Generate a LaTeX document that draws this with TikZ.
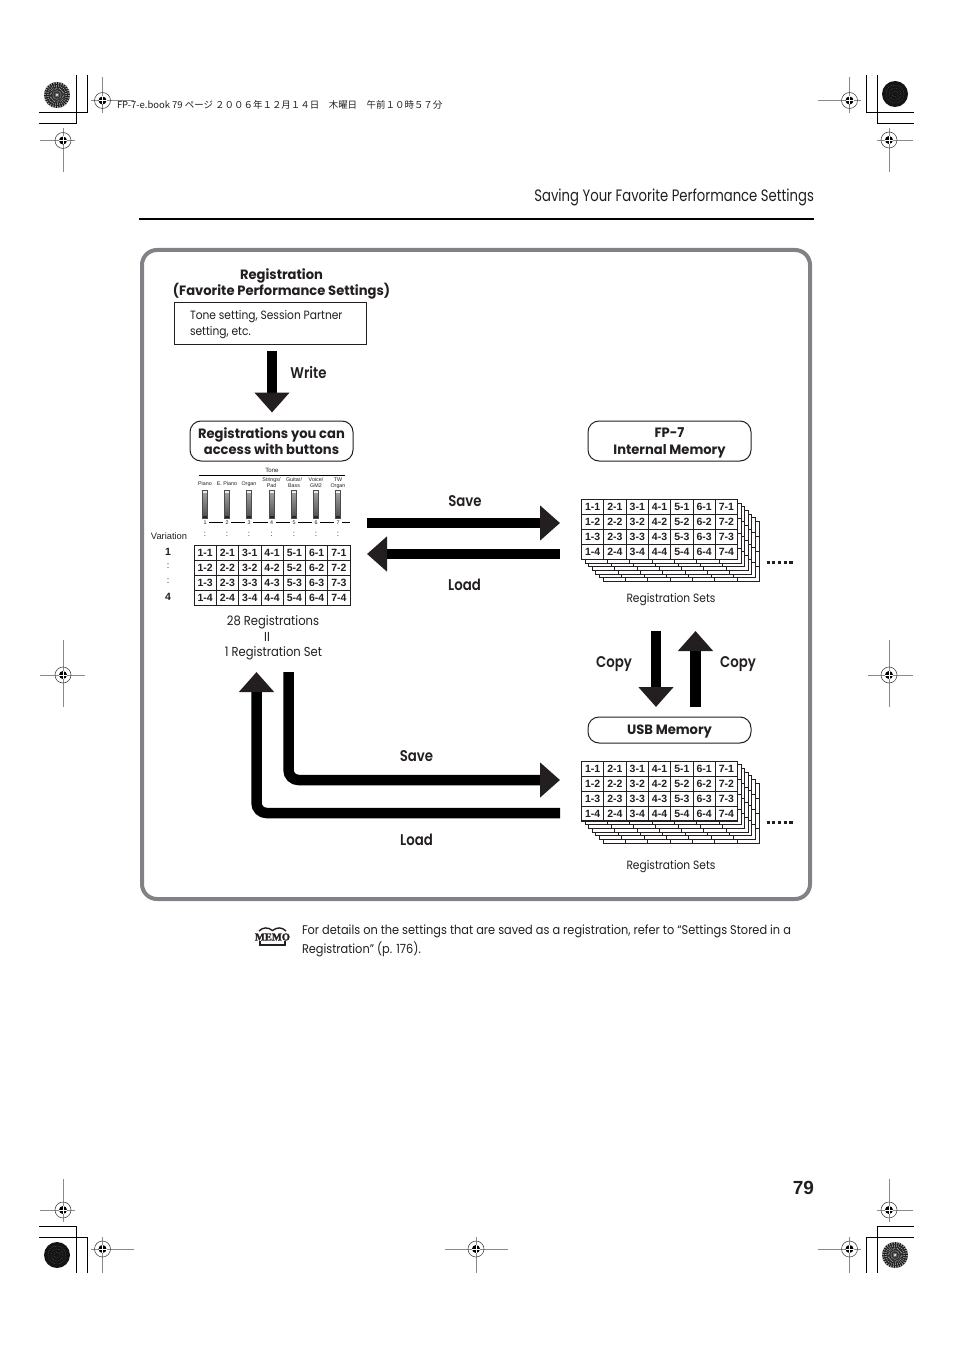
\documentclass[tikz,border=0pt]{standalone}
\usepackage{fontspec}
\setmainfont[FakeStretch=.89]{Poppins}
\newfontfamily\boxfont[FakeStretch=.97]{Poppins}
\newfontfamily\labfont[FakeStretch=.86,UprightFont=* SemiBold]{Poppins}
\newfontfamily\headfont[FakeStretch=.8]{Poppins}
\newfontfamily\notefont[FakeStretch=.9]{Poppins}
\newfontfamily\hvfont{Liberation Sans}
\newfontfamily\cjkfont{Noto Sans CJK JP}
\newfontfamily\memofont[FakeBold=2]{Liberation Serif}
\usetikzlibrary{arrows.meta,shapes.geometric,calc}
\definecolor{ink}{HTML}{231F20}
\definecolor{framegray}{HTML}{808285}
\definecolor{cropgray}{HTML}{8A8A8A}
\def\pxx{0.75pt}
\newcommand{\geo}[1]{\fontsize{\dimexpr #1\dimexpr0.75pt\relax\relax}{\dimexpr #1\dimexpr0.9pt\relax\relax}\selectfont}
\tikzset{
  every node/.style={inner sep=0pt,outer sep=0pt,text=ink},
  blockarrow/.style={draw=black,line width=10.5*\pxx,-{Triangle[length=20*\pxx,width=34*\pxx,color=ink]}},
  roundbox/.style={draw=ink,line width=1*\pxx,rounded corners=11*\pxx,fill=white,align=center,minimum width=163*\pxx,font=\boxfont\geo{13.5}\bfseries,text depth=0pt},
  lab/.style={font=\labfont\geo{15.5}},
  plain/.style={font=\geo{12},align=center},
  cell/.style={font=\hvfont\geo{10.5}\bfseries},
  tiny/.style={font=\hvfont\fontsize{4}{4.4}\selectfont,align=center},
  crop/.style={draw=black,line width=1*\pxx},
  hair/.style={draw=cropgray,line width=.7*\pxx},
}
\newcommand{\gridlines}[3]{%
  \draw[draw=ink,line width=1*\pxx,fill=white] (#1,#2) rectangle ++(156,60);
  \foreach \i in {1,...,6}{\draw[draw=ink,line width=.8*\pxx] ({#1+\i*22.3},#2) -- ++(0,60);}
  \foreach \j in {1,2,3}{\draw[draw=ink,line width=.8*\pxx] (#1,{#2+\j*15}) -- ++(156,0);}
}
\newcommand{\regtable}[3]{%
  \gridlines{#2}{#3}{}
  \foreach \i in {1,...,7}{\foreach \j in {1,...,4}{
    \node[cell] (#1-\i-\j) at ({#2+(\i-.5)*22.3},{#3+(\j-.5)*15}) {\i-\j};
  }}
}
\newcommand{\stack}[3]{%
  \foreach \k in {6,5,4,3,2,1}{\gridlines{#2+\k*3.6}{#3+\k*3.67}{}}
  \regtable{#1}{#2}{#3}
  \draw[draw=ink,line width=1.6*\pxx] (#2,#3+60) -- ++(156,0);
}
\newcommand{\target}[7]{%
  \draw[hair] (#3,#2) -- (#4,#2);
  \draw[hair] (#1,#5) -- (#1,#6);
  \draw[draw=black!70,line width=.6*\pxx] (#1,#2) circle (8);
  \fill[black] (#1,#2) circle (4);
  \draw[white,line width=.7*\pxx] (#1-4,#2) -- (#1+4,#2) (#1,#2-4) -- (#1,#2+4);
}
\newcommand{\burst}[3]{%
  \fill[black!92] (#1,#2) circle (13);
  \ifnum#3=1
    \foreach \a in {0,12,...,348}{\fill[white!62!black] (#1,#2) -- ($(#1,#2)+(\a:13)$) arc (\a:\a+5:13) -- cycle;}
    \foreach \r in {3,5.5,8,10.5}{\draw[black!85,line width=.8*\pxx] (#1,#2) circle (\r);}
    \fill[white] (#1,#2) circle (1);
  \else
    \foreach \r in {3,6,9}{\draw[white!40!black,line width=.5*\pxx,densely dotted] (#1,#2) circle (\r);}
  \fi
}
\begin{document}
\begin{tikzpicture}[x=0.75pt,y=-0.75pt]
\useasboundingbox (0,0) rectangle (954,1351);
\fill[white] (0,0) rectangle (954,1351);

% crop marks
\draw[crop] (87,75) -- (87,113) -- (39,113);
\draw[crop] (76.5,75) -- (76.5,124) -- (39,124);
\draw[crop] (866.5,75) -- (866.5,113) -- (914,113);
\draw[crop] (877,75) -- (877,124) -- (914,124);
\draw[crop] (76.5,1273) -- (76.5,1226) -- (39,1226);
\draw[crop] (87,1273) -- (87,1237) -- (39,1237);
\draw[crop] (877,1273) -- (877,1226) -- (914,1226);
\draw[crop] (866.5,1273) -- (866.5,1237) -- (914,1237);
\burst{57}{95}{1}
\burst{895}{94}{0}
\burst{57}{1255}{0}
\burst{895}{1255}{1}
\target{102.5}{100.5}{91}{134}{77}{113}{}
\target{849.5}{100.5}{818}{861}{77}{113}{}
\target{63}{140.5}{40}{75}{128}{172}{}
\target{889}{140}{877}{913}{128}{172}{}
\target{63}{675}{40}{85}{640}{707}{}
\target{889}{675}{868}{913}{640}{707}{}
\target{63}{1210}{40}{75}{1179}{1222}{}
\target{889}{1210}{877}{913}{1179}{1222}{}
\target{102.5}{1249}{91}{134}{1237}{1273}{}
\target{476}{1249}{445}{508}{1237}{1273}{}
\target{849.5}{1249}{818}{861}{1237}{1273}{}
\node[anchor=west,font=\cjkfont\fontsize{7.1}{8}\selectfont] (jobline) at (117,104.5) {FP-7-e.book 79 ページ ２００６年１２月１４日　木曜日　午前１０時５７分};

% header
\node[anchor=base east,font=\headfont\geo{16.5}] (header) at (814,202) {Saving Your Favorite Performance Settings};
\draw[draw=black,line width=2*\pxx] (139,219) -- (814,219);

% frame
\draw[draw=framegray,line width=4*\pxx,rounded corners=15*\pxx] (142,250) rectangle (810,899);

% registration
\node[align=center,font=\boxfont\geo{13.5}\bfseries] (regtitle) at (281.5,284) {Registration\\(Favorite Performance Settings)};
\draw[draw=ink,line width=1*\pxx] (174.5,302.5) rectangle (366.5,344.5);
\node[anchor=north west,align=left,font=\geo{12}] (regtext) at (190,310.5) {Tone setting, Session Partner\\[1.2pt]setting, etc.};

% write
\coordinate (wA) at (272,351);
\coordinate (wB) at (272,412.5);
\draw[blockarrow] (wA) -- (wB);
\node[lab] (write) at (308.5,372.5) {Write};

% boxes
\node[roundbox,minimum height=40*\pxx] (regbox) at (271.5,441) {Registrations you can\\access with buttons};
\node[roundbox,minimum height=40*\pxx] (fpbox) at (669.5,441) {FP-7\\Internal Memory};
\node[roundbox,minimum height=26*\pxx] (usbbox) at (669.5,730) {USB Memory};

% tone panel
\node[tiny,font=\hvfont\fontsize{4.6}{5}\selectfont] (tone) at (272,470.5) {Tone};
\draw[draw=black,line width=1*\pxx] (199,475) -- (345,475);
\draw[draw=black,line width=.8*\pxx] (209,522.5) -- (350,522.5);
\foreach \n/\xx/\yy/\t in {1/205/484/Piano,2/227/484/E. Piano,3/249/484/Organ,4/271.5/483/{Strings/\\Pad},5/294/483/{Guitar/\\Bass},6/316/483/{Voice/\\GM2},7/338/483/{TW\\Organ}}{
  \node[tiny] (tl\n) at (\xx,\yy) {\t};
  \shade[top color=black!35,bottom color=black!70] (\xx-2.5,490) rectangle (\xx+2.5,518);
  \fill[black!85] (\xx-2.5,516) rectangle (\xx+2.5,518);
  \fill[black!8] (\xx-2,491) rectangle (\xx+2,493);
  \draw[draw=black!70,line width=.5*\pxx] (\xx-2.5,490) rectangle (\xx+2.5,518);
  \node[tiny,fill=white,minimum width=8*\pxx,minimum height=5*\pxx] (tn\n) at (\xx,522.5) {\n};
  \node[font=\hvfont\geo{8}] (tc\n) at (\xx,534.5) {:};
}
\node[font=\hvfont\geo{9.3}] (variation) at (169,536) {Variation};
\node[cell] (v1) at (168,552) {1};
\node[font=\hvfont\geo{9}] (v2) at (168,566.5) {:};
\node[font=\hvfont\geo{9}] (v3) at (168,581.5) {:};
\node[cell] (v4) at (168,597) {4};
\regtable{left}{194}{545}
\node[plain,font=\geo{13}] (t28) at (273,622) {28 Registrations};
\node[plain,font=\geo{13}] (tii) at (267,636.5) {II};
\node[plain,font=\geo{13}] (t1) at (273.5,653) {1 Registration Set};

% right stacks
\stack{up}{581.5}{499.5}
\stack{low}{581.5}{761}
\foreach \i in {0,...,4}{
  \fill[ink] (766.5+\i*5.7,561.3) rectangle ++(3.2,3);
  \fill[ink] (766.5+\i*5.7,821.3) rectangle ++(3.2,3);
}
\node[plain] (rs1) at (671,600) {Registration Sets};
\node[plain] (rs2) at (671,866.5) {Registration Sets};

% save/load top
\coordinate (s1A) at (367,523);
\coordinate (s1B) at (560,523);
\coordinate (l1A) at (560,554);
\coordinate (l1B) at (367,554);
\draw[blockarrow] (s1A) -- (s1B);
\draw[blockarrow] (l1A) -- (l1B);
\node[lab] (save1) at (465,501.5) {Save};
\node[lab] (load1) at (464.5,584.5) {Load};

% copy
\coordinate (cdA) at (656,631);
\coordinate (cdB) at (656,707);
\coordinate (cuA) at (695.5,707);
\coordinate (cuB) at (695.5,631);
\draw[blockarrow] (cdA) -- (cdB);
\draw[blockarrow] (cuA) -- (cuB);
\node[lab] (copy1) at (614,664) {Copy};
\node[lab] (copy2) at (738,664) {Copy};

% save/load bottom
\coordinate (s2A) at (288.5,672);
\coordinate (s2B) at (560,780);
\coordinate (l2A) at (560,813);
\coordinate (l2B) at (256.5,672);
\draw[blockarrow,rounded corners=10*\pxx] (s2A) |- (s2B);
\draw[blockarrow,rounded corners=10*\pxx] (l2A) -| (l2B);
\node[lab] (save2) at (416.5,756.5) {Save};
\node[lab] (load2) at (416.5,839.5) {Load};

% memo
\node[font=\memofont\geo{10.5}\bfseries] (memo) at (272.5,937) {MEMO};
\draw[draw=ink,line width=1.4*\pxx] (259,931) .. controls (263,927) and (268,927) .. (272.5,930.5) .. controls (277,927) and (282,927) .. (286,931);
\draw[draw=ink,line width=1.8*\pxx] (260,941) -- (260,945) -- (285,945) -- (285,941);
\node[anchor=west,align=left,font=\notefont\geo{12.6}] (memotext) at (302,941) {For details on the settings that are saved as a registration, refer to “Settings Stored in a\\[2.2pt]Registration” (p. 176).};

% page number
\node[anchor=base east,font=\hvfont\geo{19}\bfseries] (pageno) at (814,1194) {79};
\end{tikzpicture}
\end{document}
